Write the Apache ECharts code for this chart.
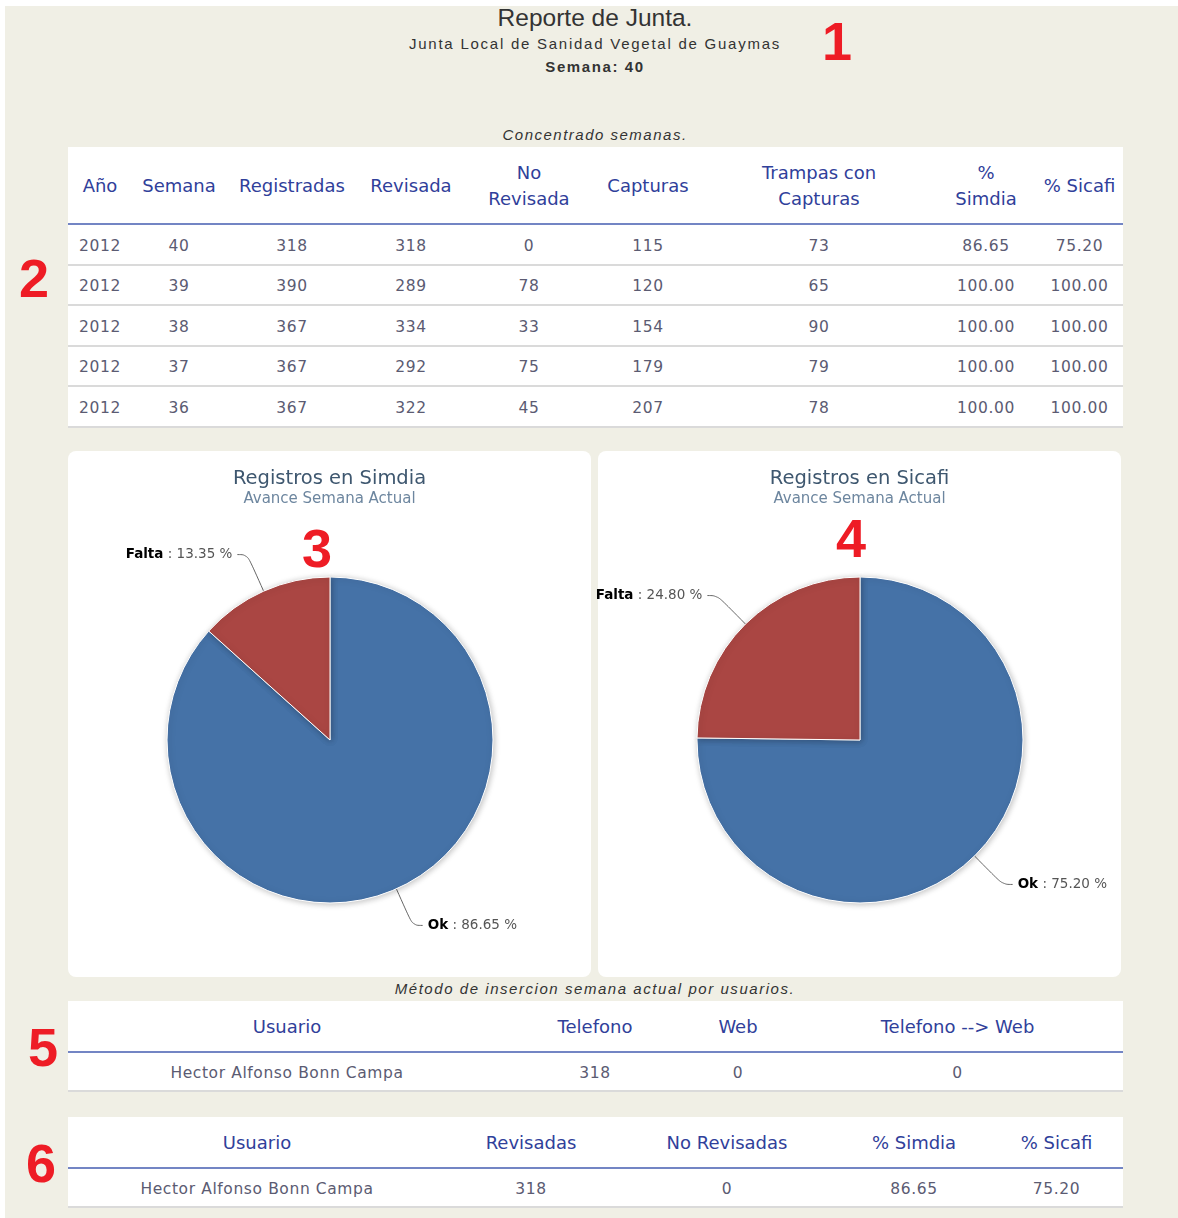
<!DOCTYPE html>
<html>
<head>
<meta charset="utf-8">
<script src="https://cdn.jsdelivr.net/npm/echarts@6/dist/echarts.min.js"></script>
<style>
  body { margin: 0; background: #fff; width: 1178px; height: 1218px; position: relative; overflow: hidden; }
  #page { position: absolute; left: 5px; top: 6px; right: 0; bottom: 0; background: #f0efe5; }
  .abs { position: absolute; }
  .center { left: 395px; width: 400px; text-align: center; font-family: "Liberation Sans", Arial, sans-serif; color: #333; white-space: nowrap; }
  .mark { font-family: "Liberation Sans", Arial, sans-serif; font-weight: bold; color: #ee1c25; font-size: 54px; line-height: 54px; }
  table { position: absolute; left: 68px; width: 1055px; border-collapse: collapse; table-layout: fixed; background: #fff; font-family: "DejaVu Sans", sans-serif; }
  th { font-weight: normal; color: #30409a; font-size: 18px; line-height: 26px; border-bottom: 2px solid #7385c4; padding: 2px 0 0 0; }
  td { color: #5b5b72; font-size: 15.5px; text-align: center; border-bottom: 2px solid #dadada; padding: 3px 0 0 0; letter-spacing: 0.6px; }
  .panel { position: absolute; top: 451px; width: 523px; height: 526px; background: #fff; border-radius: 8px; }
  .pie { position: absolute; left: -30px; top: 0; width: 583px; height: 526px; }
</style>
</head>
<body>
<div id="page"></div>

<script>
// header texts
var reportTitle = 'Reporte de Junta.'
var reportSubtitle = 'Junta Local de Sanidad Vegetal de Guaymas'
var reportWeek = 'Semana: 40'

// concentrado semanas
var weekHeaders = ['Año', 'Semana', 'Registradas', 'Revisada', 'No<br>Revisada', 'Capturas', 'Trampas con<br>Capturas', '%<br>Simdia', '% Sicafi']
var years = [2012, 2012, 2012, 2012, 2012]
var weeks = [40, 39, 38, 37, 36]
var registradas = [318, 390, 367, 367, 367]
var revisadas = [318, 289, 334, 292, 322]
var noRevisadas = [0, 78, 33, 75, 45]
var capturas = [115, 120, 154, 179, 207]
var trampasConCapturas = [73, 65, 90, 79, 78]
var pctSimdia = ['86.65', '100.00', '100.00', '100.00', '100.00']
var pctSicafi = ['75.20', '100.00', '100.00', '100.00', '100.00']

// pies
var pieNames = ['Ok', 'Falta']
var simdiaValues = [86.65, 13.35]
var sicafiValues = [75.20, 24.80]

// usuarios
var methodHeaders = ['Usuario', 'Telefono', 'Web', 'Telefono --&gt; Web']
var methodRow = ['Hector Alfonso Bonn Campa', 318, 0, 0]
var userHeaders = ['Usuario', 'Revisadas', 'No Revisadas', '% Simdia', '% Sicafi']
var userRow = ['Hector Alfonso Bonn Campa', 318, 0, '86.65', '75.20']

function buildTable(top, widths, headers, rows, headHeight, rowHeight) {
  var html = '<table style="top:' + top + 'px"><colgroup>'
  widths.forEach(function (w) { html += '<col style="width:' + w + 'px">' })
  html += '</colgroup><tr>'
  headers.forEach(function (h) { html += '<th style="height:' + headHeight + 'px">' + h + '</th>' })
  html += '</tr>'
  rows.forEach(function (r) {
    html += '<tr>'
    r.forEach(function (c) { html += '<td style="height:' + rowHeight + 'px">' + c + '</td>' })
    html += '</tr>'
  })
  return html + '</table>'
}

var weekRows = years.map(function (y, i) {
  return [y, weeks[i], registradas[i], revisadas[i], noRevisadas[i], capturas[i], trampasConCapturas[i], pctSimdia[i], pctSicafi[i]]
})

var body = document.body
var out = ''
out += '<div class="abs center" style="top:5px;font-size:24.5px;line-height:26px;">' + reportTitle + '</div>'
out += '<div class="abs center" style="top:34px;font-size:15px;line-height:20px;letter-spacing:1.75px;">' + reportSubtitle + '</div>'
out += '<div class="abs center" style="top:57px;font-size:15px;line-height:20px;letter-spacing:1.6px;font-weight:bold;">' + reportWeek + '</div>'
out += '<div class="abs center" style="top:125px;font-size:15px;line-height:20px;letter-spacing:1.5px;font-style:italic;">Concentrado semanas.</div>'
out += buildTable(147, [64, 94, 132, 106, 130, 108, 234, 100, 87], weekHeaders, weekRows, 74, 35.5)
out += '<div class="panel" style="left:68px"></div>'
out += '<div class="panel" style="left:598px"></div>'
out += '<div class="abs center" style="left:295px;width:600px;top:979px;font-size:15px;line-height:20px;letter-spacing:1.55px;font-style:italic;">Método de insercion semana actual por usuarios.</div>'
out += buildTable(1001, [438, 178, 108, 331], methodHeaders, [methodRow], 48, 34)
out += buildTable(1117, [378, 170, 222, 152, 133], userHeaders, [userRow], 48, 34)
out += '<div class="abs" style="left:68px;top:451px;width:523px;height:526px"><div id="pieSimdia" class="pie"></div></div>'
out += '<div class="abs" style="left:598px;top:451px;width:523px;height:526px"><div id="pieSicafi" class="pie"></div></div>'
out += '<div class="abs mark" style="left:822px;top:14px">1</div>'
out += '<div class="abs mark" style="left:19px;top:251px">2</div>'
out += '<div class="abs mark" style="left:302px;top:521px">3</div>'
out += '<div class="abs mark" style="left:836px;top:511px">4</div>'
out += '<div class="abs mark" style="left:28px;top:1020px">5</div>'
out += '<div class="abs mark" style="left:26px;top:1136px">6</div>'
body.insertAdjacentHTML('beforeend', out)

function pieOption(title, values) {
  return {
    animation: false,
    title: {
      text: title,
      subtext: 'Avance Semana Actual',
      left: 'center',
      top: 13,
      itemGap: 3,
      textStyle: { fontFamily: 'DejaVu Sans', fontSize: 19.5, fontWeight: 'normal', color: '#3e576f' },
      subtextStyle: { fontFamily: 'DejaVu Sans', fontSize: 15, color: '#6d869f' }
    },
    color: ['#4572a7', '#aa4643'],
    series: [{
      type: 'pie',
      center: [292, 289],
      radius: 163,
      startAngle: 90,
      clockwise: true,
      data: pieNames.map(function (n, i) { return { name: n, value: values[i] } }),
      itemStyle: { borderColor: '#fff', borderWidth: 1, shadowBlur: 6, shadowColor: 'rgba(0,0,0,0.25)', shadowOffsetX: 1, shadowOffsetY: 1 },
      label: {
        show: true,
        position: 'outside',
        overflow: 'none',
        formatter: function (p) { return '{b|' + p.name + '}{v| : ' + p.value.toFixed(2) + ' %}' },
        rich: {
          b: { fontFamily: 'DejaVu Sans', fontSize: 13.5, fontWeight: 'bold', color: '#000' },
          v: { fontFamily: 'DejaVu Sans', fontSize: 13.5, color: '#555' }
        }
      },
      labelLine: { show: true, length: 40, length2: 10, smooth: 0.4, lineStyle: { color: '#666', width: 1 } },
      emphasis: { disabled: true }
    }]
  }
}

echarts.init(document.getElementById('pieSimdia')).setOption(pieOption('Registros en Simdia', simdiaValues))
echarts.init(document.getElementById('pieSicafi')).setOption(pieOption('Registros en Sicafi', sicafiValues))
</script>
</body>
</html>
